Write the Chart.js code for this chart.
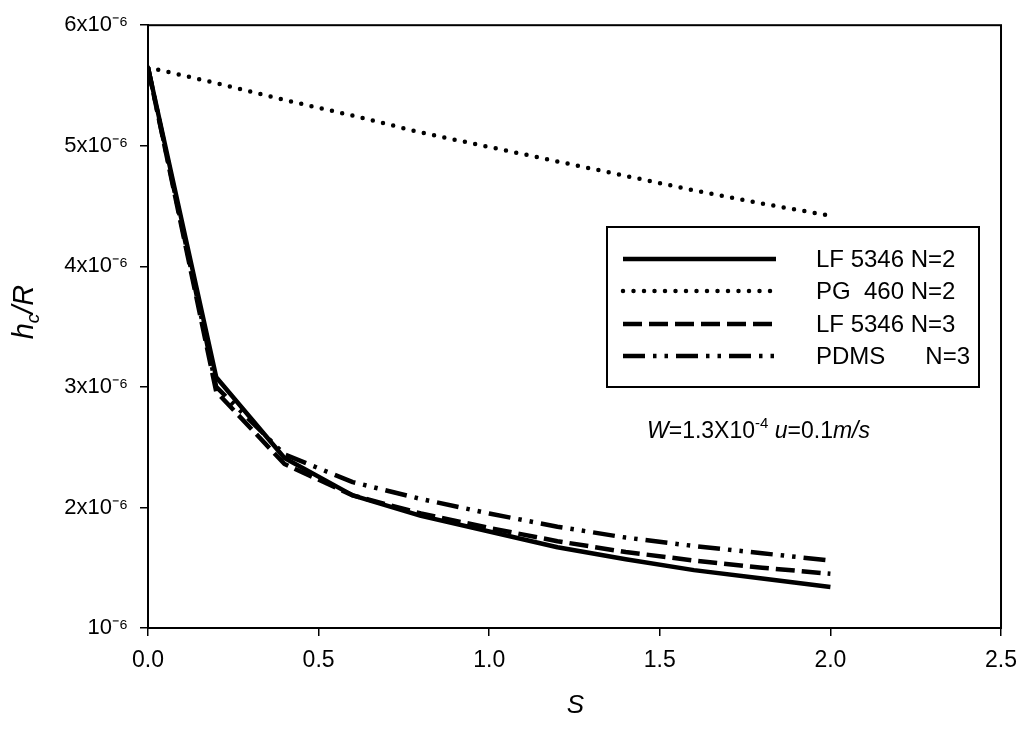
<!DOCTYPE html>
<html><head><meta charset="utf-8">
<script src="https://cdn.jsdelivr.net/npm/chart.js@4/dist/chart.umd.min.js"></script>
<style>html,body{margin:0;padding:0;background:#fff}canvas{display:block}</style>
</head><body>
<canvas id="c" width="1028" height="729"></canvas>
<script>
// Data
const sValues   = [0, 0.2, 0.4, 0.6, 0.8, 1.0, 1.2, 1.4, 1.6, 1.8, 2.0];
const lf5346N2  = [5.65e-6, 3.08e-6, 2.41e-6, 2.10e-6, 1.93e-6, 1.80e-6, 1.67e-6, 1.57e-6, 1.48e-6, 1.41e-6, 1.34e-6];
const pg460N2   = [5.65e-6, 5.52e-6, 5.38e-6, 5.25e-6, 5.11e-6, 4.99e-6, 4.87e-6, 4.75e-6, 4.63e-6, 4.52e-6, 4.42e-6];
const lf5346N3  = [5.65e-6, 2.96e-6, 2.36e-6, 2.10e-6, 1.95e-6, 1.83e-6, 1.72e-6, 1.63e-6, 1.56e-6, 1.50e-6, 1.45e-6];
const pdmsN3    = [5.65e-6, 3.00e-6, 2.44e-6, 2.21e-6, 2.07e-6, 1.95e-6, 1.84e-6, 1.75e-6, 1.68e-6, 1.62e-6, 1.56e-6];
const seriesLabels = ['LF 5346 N=2', 'PG  460 N=2', 'LF 5346 N=3', 'PDMS      N=3'];
const xTicks = [0, 0.5, 1.0, 1.5, 2.0, 2.5];
const yTickLabels = {1: '10\u207B\u2076', 2: '2x10\u207B\u2076', 3: '3x10\u207B\u2076', 4: '4x10\u207B\u2076', 5: '5x10\u207B\u2076', 6: '6x10\u207B\u2076'};

const toPts = arr => sValues.map((s, i) => ({x: s, y: arr[i]}));
const styles = [
  {borderWidth: 4.5, borderDash: [], borderCapStyle: 'butt'},
  {borderWidth: 4.5, borderDash: [0, 10.5], borderCapStyle: 'round'},
  {borderWidth: 4.5, borderDash: [19, 7], borderCapStyle: 'butt'},
  {borderWidth: 4.5, borderDash: [22, 8, 3.5, 8, 3.5, 8], borderCapStyle: 'butt'}
];
const allSeries = [lf5346N2, pg460N2, lf5346N3, pdmsN3];
const datasets = allSeries.map((arr, i) => Object.assign({
  label: seriesLabels[i], data: toPts(arr), borderColor: '#000', backgroundColor: '#000',
  pointRadius: 0, tension: 0, fill: false, showLine: true, borderJoinStyle: 'round'
}, styles[i]));

const FONT = '"Liberation Sans", Arial, sans-serif';

const decor = {
  id: 'decor',
  afterDraw(chart) {
    const ctx = chart.ctx, a = chart.chartArea;
    ctx.save();
    // plot frame
    ctx.strokeStyle = '#000'; ctx.lineWidth = 2; ctx.setLineDash([]);
    ctx.strokeRect(a.left, a.top, a.right - a.left, a.bottom - a.top);
    // x title
    ctx.fillStyle = '#000';
    ctx.font = 'italic 26px ' + FONT;
    ctx.textAlign = 'center'; ctx.textBaseline = 'middle';
    ctx.fillText('S', (a.left + a.right) / 2 + 1, 706);
    // y title h_c/R
    ctx.save();
    ctx.translate(23, 312);
    ctx.rotate(-Math.PI / 2);
    ctx.textAlign = 'left'; ctx.textBaseline = 'alphabetic';
    ctx.font = 'italic 29px ' + FONT;
    const wh = ctx.measureText('h').width;
    ctx.font = 'italic 19px ' + FONT;
    const wc = ctx.measureText('c').width;
    ctx.font = 'italic 29px ' + FONT;
    const wr = ctx.measureText('/R').width;
    let x0 = -(wh + wc + wr) / 2;
    ctx.fillText('h', x0, 10);
    ctx.font = 'italic 19px ' + FONT;
    ctx.fillText('c', x0 + wh, 16);
    ctx.font = 'italic 29px ' + FONT;
    ctx.fillText('/R', x0 + wh + wc, 10);
    ctx.restore();
    // legend box
    const lx = 607, ly = 227, lw = 372, lh = 160;
    ctx.lineWidth = 2; ctx.setLineDash([]);
    ctx.strokeRect(lx, ly, lw, lh);
    const rows = [259, 291, 324, 356];
    chart.data.datasets.forEach((ds, i) => {
      ctx.save();
      ctx.strokeStyle = '#000';
      ctx.lineWidth = ds.borderWidth;
      ctx.lineCap = ds.borderCapStyle;
      ctx.setLineDash(ds.borderDash);
      ctx.beginPath(); ctx.moveTo(623, rows[i]); ctx.lineTo(776, rows[i]); ctx.stroke();
      ctx.restore();
      ctx.font = '24px ' + FONT;
      ctx.textAlign = 'left'; ctx.textBaseline = 'middle';
      ctx.fillText(ds.label, 816, rows[i] + 1);
    });
    // annotation
    let x = 647; const yb = 438;
    ctx.textAlign = 'left'; ctx.textBaseline = 'alphabetic';
    const seg = (t, f, dy) => { ctx.font = f; ctx.fillText(t, x, yb + (dy || 0)); x += ctx.measureText(t).width; };
    seg('W', 'italic 23px ' + FONT);
    seg('=1.3X10', '23px ' + FONT);
    seg('-4', '15px ' + FONT, -10);
    seg(' ', '23px ' + FONT);
    seg('u', 'italic 23px ' + FONT);
    seg('=0.1', '23px ' + FONT);
    seg('m/s', 'italic 23px ' + FONT);
    ctx.restore();
  }
};

new Chart(document.getElementById('c'), {
  type: 'scatter',
  data: {datasets},
  options: {
    responsive: false, animation: false, devicePixelRatio: 1,
    layout: {padding: {top: 20, right: 25, left: 0, bottom: 0}},
    plugins: {legend: {display: false}, tooltip: {enabled: false}},
    scales: {
      x: {
        type: 'linear', min: 0, max: 2.5,
        afterBuildTicks: s => { s.ticks = xTicks.map(v => ({value: v})); },
        afterFit: s => { s.height = 101; },
        border: {display: true, color: '#000', width: 2},
        grid: {display: true, drawOnChartArea: false, drawTicks: true, tickLength: 8, color: '#000', lineWidth: 1.5},
        ticks: {color: '#000', padding: 11, font: {family: FONT, size: 23}, maxRotation: 0,
          callback: v => Number(v).toFixed(1)}
      },
      y: {
        type: 'linear', min: 1e-6, max: 6e-6,
        afterBuildTicks: s => { s.ticks = [1, 2, 3, 4, 5, 6].map(k => ({value: k * 1e-6})); },
        afterFit: s => { s.width = 148; },
        border: {display: true, color: '#000', width: 2},
        grid: {display: true, drawOnChartArea: false, drawTicks: true, tickLength: 8, color: '#000', lineWidth: 1.5},
        ticks: {color: '#000', padding: 12, font: {family: FONT, size: 22},
          callback: v => yTickLabels[Math.round(v / 1e-6)] || ''}
      }
    }
  },
  plugins: [decor]
});
</script>
</body></html>
